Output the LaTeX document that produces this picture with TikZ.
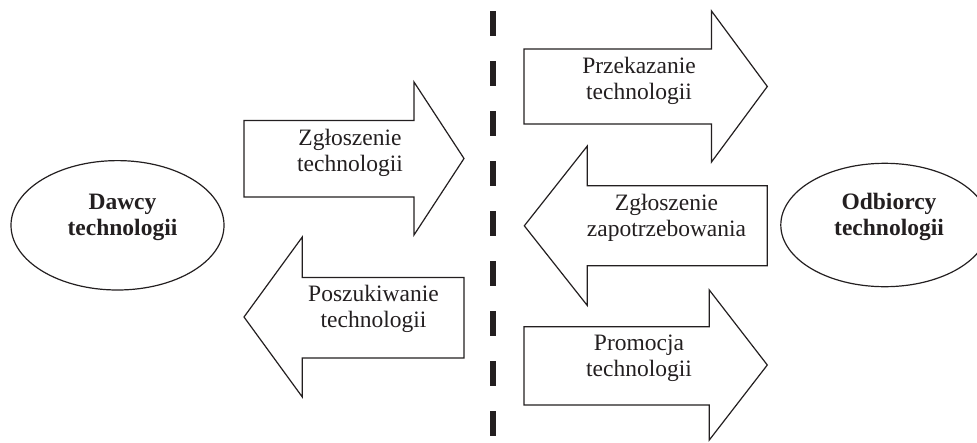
\documentclass[tikz,border=0pt]{standalone}
\usepackage{fontspec}
\setmainfont{Liberation Serif}
\usetikzlibrary{shapes.geometric}
\definecolor{ink}{HTML}{231F20}
\begin{document}
\begin{tikzpicture}[x=1pt,y=-1pt,
  shapeline/.style={draw=ink,line width=1.2pt,line join=miter,fill=white},
  lbl/.style={text=ink,align=center,inner sep=0pt,font=\fontsize{23.5}{26}\selectfont},
  blbl/.style={lbl,font=\fontsize{23.5}{26}\selectfont\bfseries},
  oval/.style={ellipse,draw=ink,line width=1.2pt,inner sep=0pt}]
\useasboundingbox (0,0) rectangle (977,442);
\clip (0,0) rectangle (977,442);
% divider
\coordinate (dtop) at (493,11);
\coordinate (dbot) at (493,442);
\draw[ink,line width=6pt,dash pattern=on 24.7pt off 25.3pt] (dtop) -- (dbot);
% ellipses
\node[oval,minimum width=213pt,minimum height=129.4pt] (dawcy) at (117.5,225.3) {};
\node[blbl] (dawcyt) at (122.5,217.5) {Dawcy\\technologii};
\node[oval,minimum width=208pt,minimum height=123.4pt] (odb) at (884.8,225) {};
\node[blbl] (odbt) at (889,217.3) {Odbiorcy\\technologii};
% arrow 1 (right)
\draw[shapeline] (244,120.5) -- (414,120.5) -- (414,82) -- (464,158.5) -- (414,235) -- (414,197) -- (244,197) -- cycle;
\node[lbl] (a1) at (350,153) {Zgłoszenie\\technologii};
% arrow 2 (left)
\draw[shapeline] (464,277.5) -- (302.3,277.5) -- (302.3,237) -- (244,317) -- (302.3,397) -- (302.3,358) -- (464,358) -- cycle;
\node[lbl] (a2) at (373.5,308.5) {Poszukiwanie\\technologii};
% arrow 3 (right)
\draw[shapeline] (524,49) -- (711.5,49) -- (711.5,11) -- (767.3,86.5) -- (711.5,162) -- (711.5,124) -- (524,124) -- cycle;
\node[lbl] (a3) at (639,80.8) {Przekazanie\\technologii};
% arrow 4 (left)
\draw[shapeline] (767.3,185.7) -- (587.3,185.7) -- (587.3,146) -- (524.3,225.8) -- (587.3,305.5) -- (587.3,265.7) -- (767.3,265.7) -- cycle;
\node[lbl] (a4) at (666.5,218) {Zgłoszenie\\zapotrzebowania};
% arrow 5 (right)
\draw[shapeline] (524,326.7) -- (709.3,326.7) -- (709.3,290) -- (767.3,365) -- (709.3,440) -- (709.3,405) -- (524,405) -- cycle;
\node[lbl] (a5) at (639,358.3) {Promocja\\technologii};
\end{tikzpicture}
\end{document}
